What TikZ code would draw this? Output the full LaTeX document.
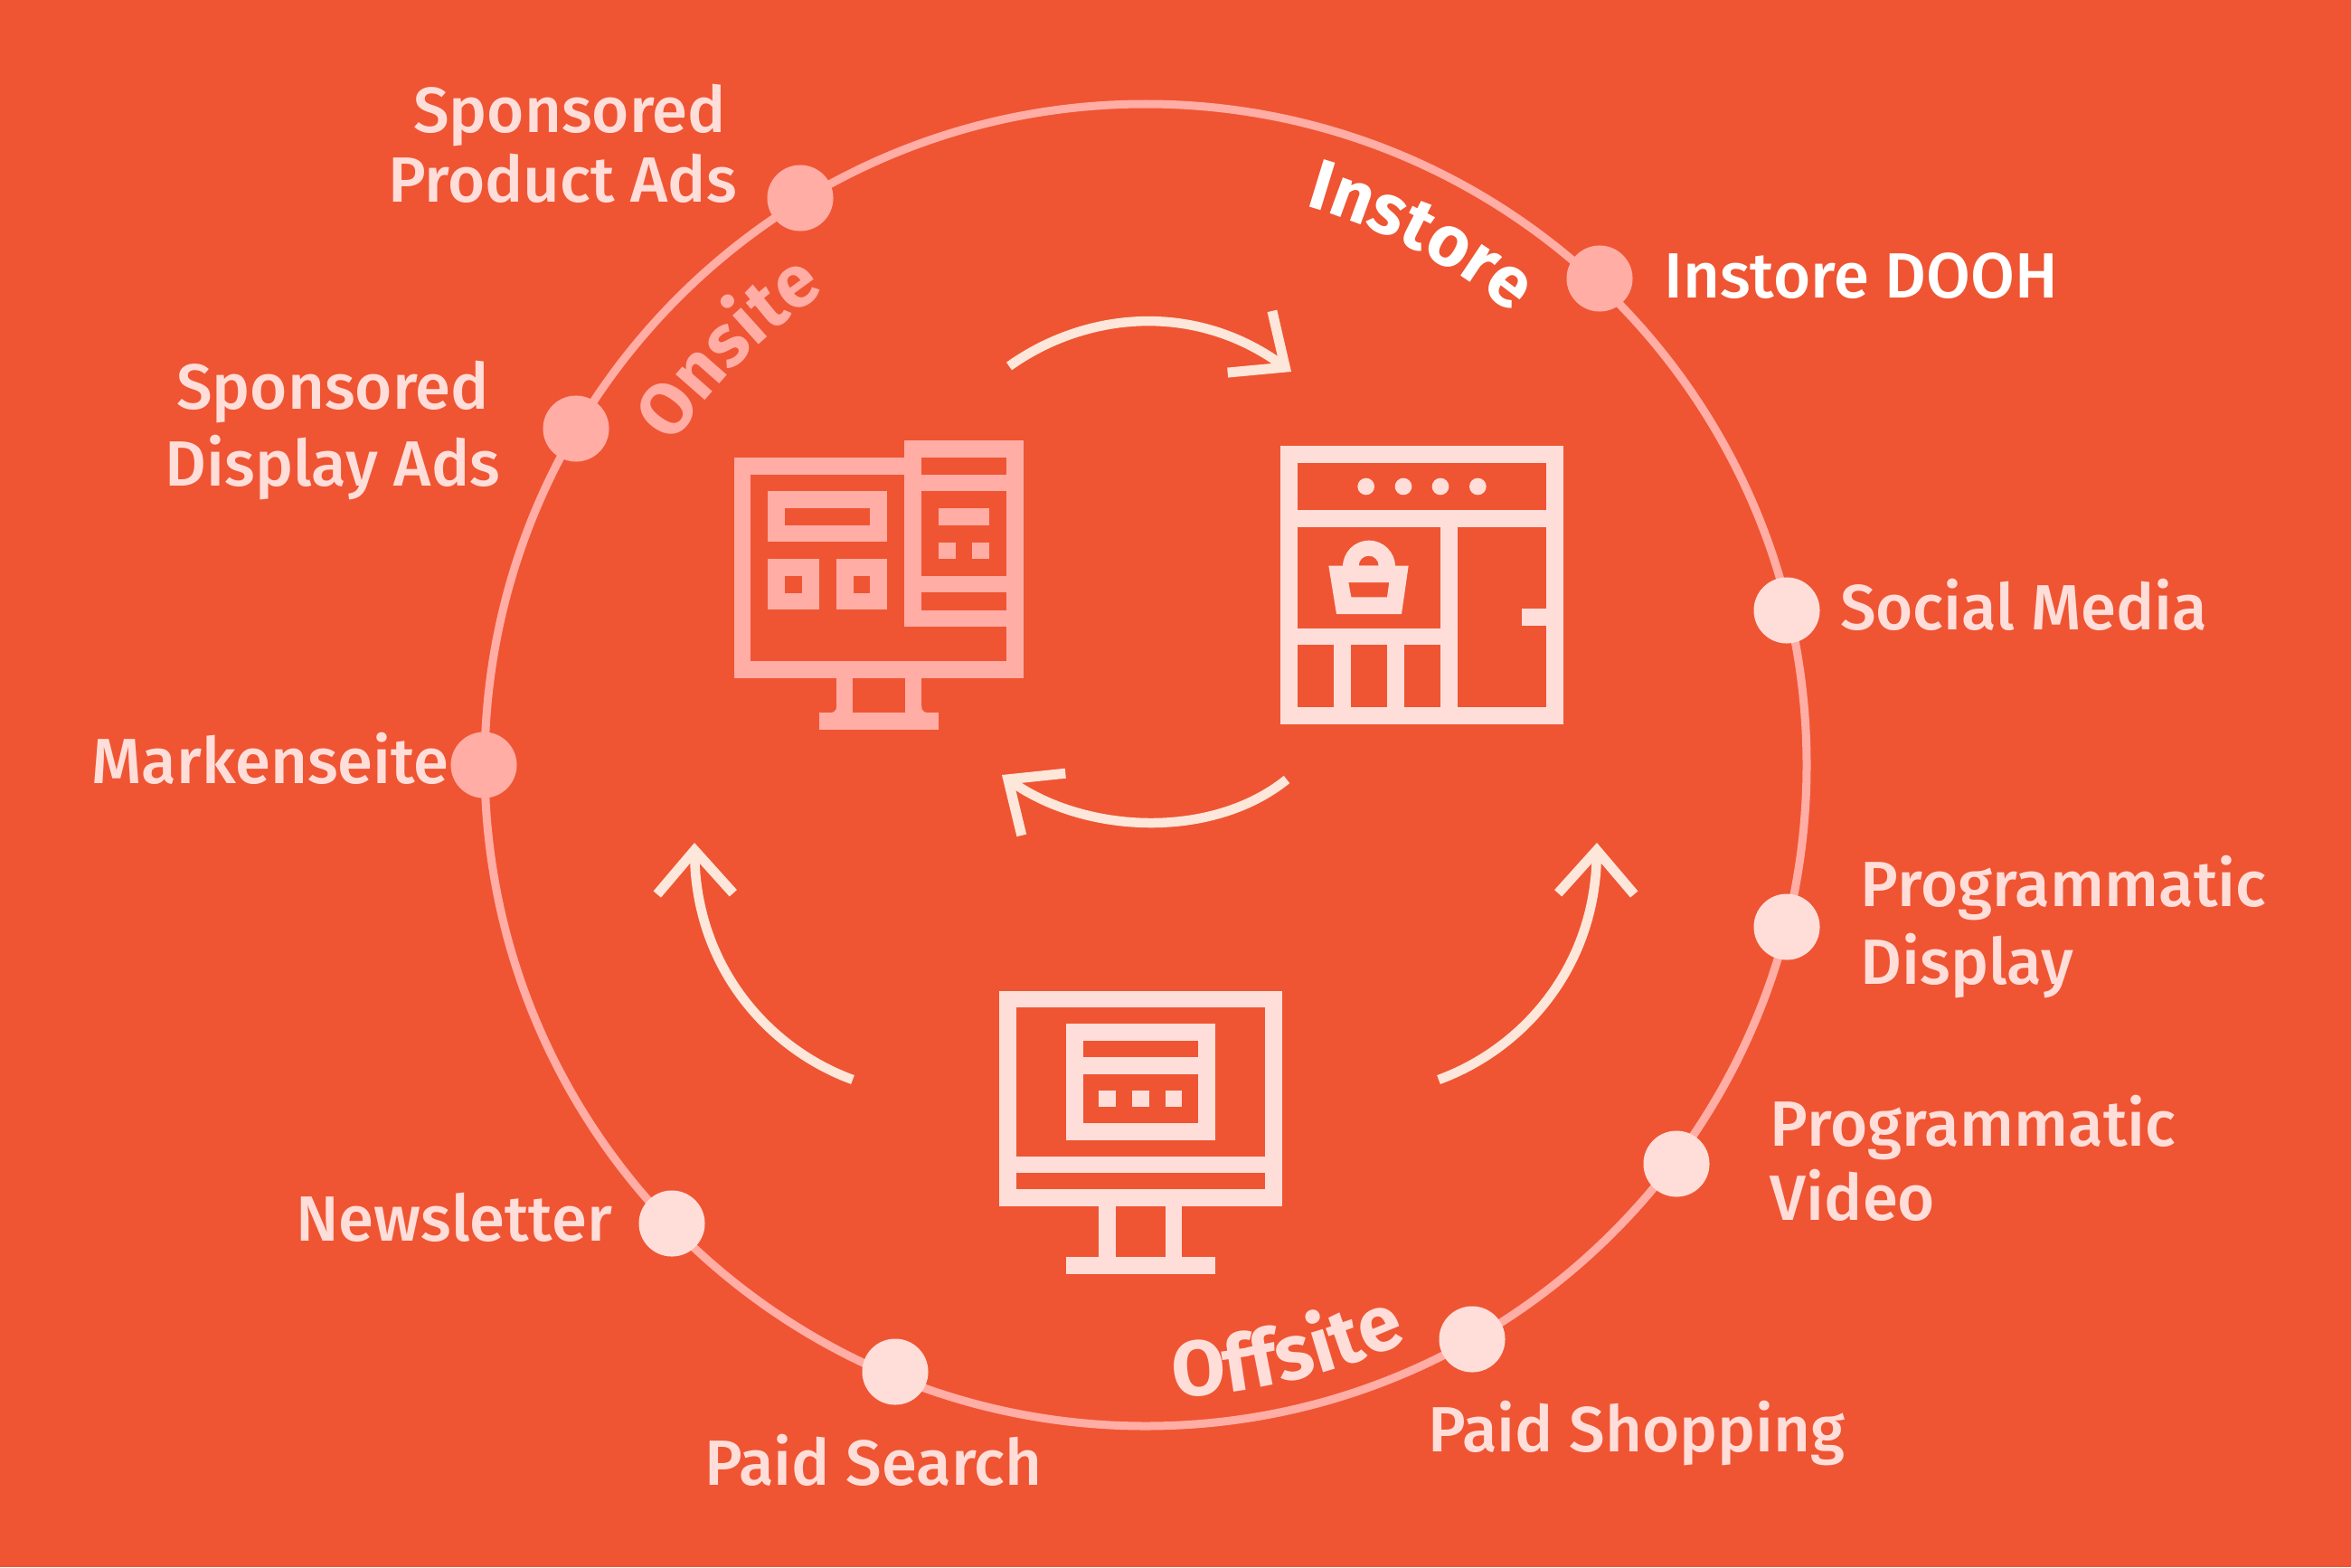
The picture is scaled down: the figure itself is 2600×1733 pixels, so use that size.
\documentclass[tikz,border=0pt]{standalone}
\usepackage{fontspec}
\setmainfont{Fira Sans}[Ligatures=NoCommon]
\newfontfamily\labelfont{Fira Sans Medium}[Ligatures=NoCommon]
\usetikzlibrary{arrows.meta}
\usetikzlibrary{decorations.text}
\definecolor{bgred}{HTML}{EF5533}
\definecolor{palepink}{HTML}{FFDEDA}
\definecolor{midpink}{HTML}{FFADA5}
\definecolor{cream}{HTML}{FDE6DA}

\begin{document}
\begin{tikzpicture}[x=.01cm,y=-.01cm,
	ring/.style = {draw=midpink,line width=.09cm},
	dot/.style = {circle,inner sep=0pt,minimum size=.73cm},
	lbl/.style = {font=\labelfont\fontsize{20.1}{22.8}\selectfont,text=palepink,inner sep=0pt,align=left},
	flow/.style = {draw=cream,line width=.105cm,-{Straight Barb[length=.48cm,width=.84cm,line width=.11cm]}},
	bar/.style = {line width=.185cm}]

	% Background
	\fill[bgred] (0,0) rectangle (2600,1733);

	% Ring
	\draw[ring] (1267,846) circle (731);

	% Dots on the ring
	\node[dot,fill=midpink] (product) at (885,219) {};
	\node[dot,fill=midpink] (display) at (637,474) {};
	\node[dot,fill=midpink] (marken) at (535,846) {};
	\node[dot,fill=midpink] (dooh) at (1769,308) {};
	\node[dot,fill=palepink] (social) at (1976,675) {};
	\node[dot,fill=palepink] (progdisplay) at (1976,1025) {};
	\node[dot,fill=palepink] (progvideo) at (1854,1287) {};
	\node[dot,fill=palepink] (shopping) at (1628,1481) {};
	\node[dot,fill=palepink] (search) at (990,1517) {};
	\node[dot,fill=palepink] (news) at (743,1353) {};

	% Labels
	\node[lbl,align=center] (productlbl) at (622,159) {\hspace*{.16cm}Sponsored\\[-1pt]Product Ads};
	\node[lbl,align=center] (displaylbl) at (368,476) {Sponsored\\[1.5pt]Display Ads};
	\node[lbl] (markenlbl) at (299,839) {Markenseite};
	\node[lbl,text=white] (doohlbl) at (2058,305) {Instore DOOH};
	\node[lbl] (sociallbl) at (2238,669) {Social Media};
	\node[lbl] (progdisplaylbl) at (2282,1025) {Programmatic\\[1.5pt]Display};
	\node[lbl] (progvideolbl) at (2182,1281) {Programmatic\\[.5pt]Video};
	\node[lbl] (shoppinglbl) at (1810,1585) {Paid Shopping};
	\node[lbl] (searchlbl) at (966,1615) {Paid Search};
	\node[lbl] (newslbl) at (502,1346) {Newsletter};

	% Curved labels along the ring
	\path[decorate,decoration={text along path,text align=center,
		text={|\fontsize{22.5}{26}\selectfont\bfseries\color{white}|Instore}}]
		(1267,846) ++(-92.5:643) arc[start angle=-92.5,end angle=-32.5,radius=643];
	\path[decorate,decoration={text along path,text align=center,
		text={|\fontsize{23}{26}\selectfont\bfseries\color{midpink}|Onsite}}]
		(1267,846) ++(-165:632) arc[start angle=-165,end angle=-105,radius=632];
	\path[decorate,decoration={text along path,text align=center,
		text={|\fontsize{24.5}{26}\selectfont\bfseries\color{palepink}|Offsite}}]
		(1267,846) ++(106.5:700) arc[start angle=106.5,end angle=46.5,radius=700];

	% Arrows
	\coordinate (toptail) at (1116,405);
	\coordinate (toptip) at (1428,411);
	\coordinate (midtail) at (1423,862);
	\coordinate (midtip) at (1108,857);
	\coordinate (lefttail) at (943,1194);
	\coordinate (lefttip) at (768,932);
	\coordinate (righttail) at (1591,1194);
	\coordinate (righttip) at (1766,932);
	\path[flow] (toptail) .. controls (1200,345) and (1320,333) .. (toptip);
	\path[flow] (midtail) .. controls (1340,929) and (1200,922) .. (midtip);
	\path[flow] (lefttail) .. controls (850,1160) and (770,1070) .. (lefttip);
	\path[flow] (righttail) .. controls (1684,1160) and (1764,1070) .. (righttip);

	% Onsite icon
	\begin{scope}[shift={(780,460)},scale=1/3,draw=midpink,fill=midpink]
		\draw[bar] (688,166) -- (123,166) -- (123,842) -- (1027,842) -- (1027,672);
		\draw[bar] (688,110) rectangle (1027,672);
		\draw[bar] (688,222) -- (1027,222);
		\draw[bar] (688,558) -- (1027,558);
		\fill (773,307) rectangle (942,363);
		\fill (773,420) rectangle (830,475);
		\fill (885,420) rectangle (942,475);
		\draw[bar] (236,278) rectangle (575,390);
		\draw[bar] (236,503) rectangle (350,615);
		\draw[bar] (463,503) rectangle (575,615);
		\draw[bar] (462,860) -- (462,1000);
		\draw[bar] (690,860) -- (690,1000);
		\draw[bar] (378,1013) -- (773,1013);
		\fill (436,960) .. controls (436,980) and (425,986) .. (405,986) -- (436,988) -- cycle;
		\fill (717,960) .. controls (717,980) and (728,986) .. (748,986) -- (717,988) -- cycle;
	\end{scope}

	% Instore icon
	\begin{scope}[shift={(1390,460)},scale=1/3,draw=palepink,fill=palepink]
		\draw[bar] (106,128) rectangle (989,994);
		\draw[bar] (106,341) -- (989,341);
		\draw[bar] (637,341) -- (637,994);
		\draw[bar] (106,732) -- (637,732);
		\draw[bar] (284,732) -- (284,994);
		\draw[bar] (460,732) -- (460,994);
		\fill (878,640) rectangle (970,696);
		\foreach \dx in {362,486,609,733}
			\fill (\dx,234) circle (28);
		\fill[even odd rule] (238,497) -- (503,497) -- (480,657) -- (264,657) -- cycle
			(304,552) -- (439,552) -- (432,601) -- (313,601) -- cycle;
		\fill[even odd rule] (285,500) arc[start angle=180,end angle=360,radius=87] -- cycle
			(338,497) arc[start angle=180,end angle=360,radius=33] -- cycle;
	\end{scope}

	% Offsite icon
	\begin{scope}[shift={(1080,1080)},scale=1/3,draw=palepink,fill=palepink]
		\draw[bar] (103,75) rectangle (985,734);
		\draw[bar] (103,624) -- (985,624);
		\draw[bar] (325,185) rectangle (764,514);
		\draw[bar] (325,295) -- (764,295);
		\fill (406,377) rectangle (462,432);
		\fill (516,377) rectangle (572,432);
		\fill (626,377) rectangle (682,432);
		\draw[bar] (434,750) -- (434,940);
		\draw[bar] (654,750) -- (654,940);
		\draw[bar] (297,958) -- (792,958);
	\end{scope}

\end{tikzpicture}
\end{document}
